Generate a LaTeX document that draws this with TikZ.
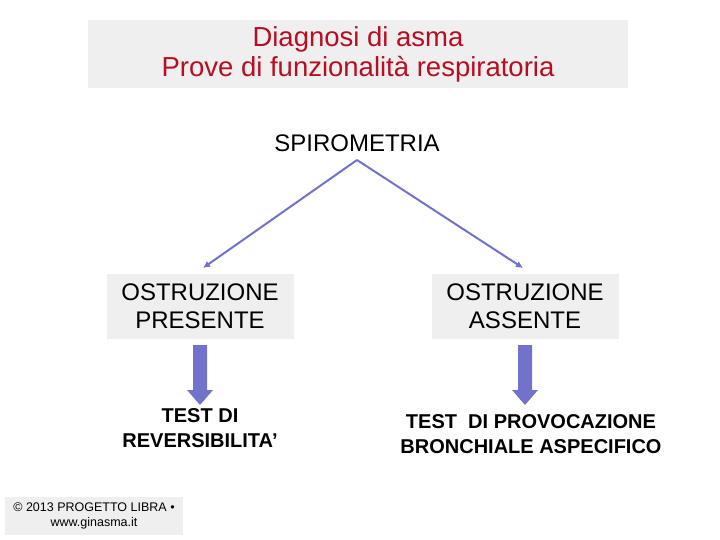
\documentclass[tikz,border=0pt]{standalone}
\usepackage{fontspec}
\setmainfont{Liberation Sans}
\usetikzlibrary{arrows.meta}
\definecolor{boxgray}{HTML}{EFEFEF}
\definecolor{titlered}{HTML}{B80E24}
\definecolor{arrowblue}{HTML}{7272CC}
\tikzset{
  graybox/.style={fill=boxgray, align=center, inner sep=0pt},
  blockarrow/.style={fill=arrowblue}
}
\newcommand{\blockdown}[1]{% block arrow centred at x=#1
  \fill[arrowblue] (#1-7,345) -- (#1+7,345) -- (#1+7,390) -- (#1+13,390) -- (#1,405)
    -- (#1-13,390) -- (#1-7,390) -- cycle;}
\begin{document}
\begin{tikzpicture}[x=1pt,y=-1pt]
    \useasboundingbox (0,0) rectangle (720,540);
    % Title
    \node[graybox, minimum width=540pt, minimum height=68pt, font=\fontsize{27.5}{30}\selectfont, text=titlered] (title) at (358,54) {Diagnosi di asma\\Prove di funzionalità respiratoria};

    \node[font=\fontsize{24}{28}\selectfont] (spiro) at (357,143) {SPIROMETRIA};
    \coordinate (top) at (357,160);

    % Outcome boxes
    \node[graybox, minimum width=187pt, minimum height=65pt, font=\fontsize{24}{28}\selectfont] (pres) at (200,306) {OSTRUZIONE\\PRESENTE};
    \node[graybox, minimum width=187pt, minimum height=65pt, font=\fontsize{24}{28}\selectfont] (ass) at (525,306) {OSTRUZIONE\\ASSENTE};

    \draw[arrowblue, line width=2pt, -{Latex[length=7pt,width=7pt]}] (top) -- (203,268);
    \draw[arrowblue, line width=2pt, -{Latex[length=7pt,width=7pt]}] (top) -- (523,268);

    % Block arrows
    \blockdown{200}
    \blockdown{525}

    % Tests
    \node[font=\bfseries\fontsize{20}{25}\selectfont, align=center] (rev) at (200,428) {TEST DI\\REVERSIBILITA’};
    \node[font=\bfseries\fontsize{20}{25}\selectfont, align=center] (prov) at (531,434) {TEST\ \ DI PROVOCAZIONE\\BRONCHIALE ASPECIFICO};

    % Footer
    \node[graybox, minimum width=178pt, minimum height=38pt, font=\fontsize{12.5}{15}\selectfont] (foot) at (94,516) {© 2013 PROGETTO LIBRA •\\www.ginasma.it};
\end{tikzpicture}
\end{document}
